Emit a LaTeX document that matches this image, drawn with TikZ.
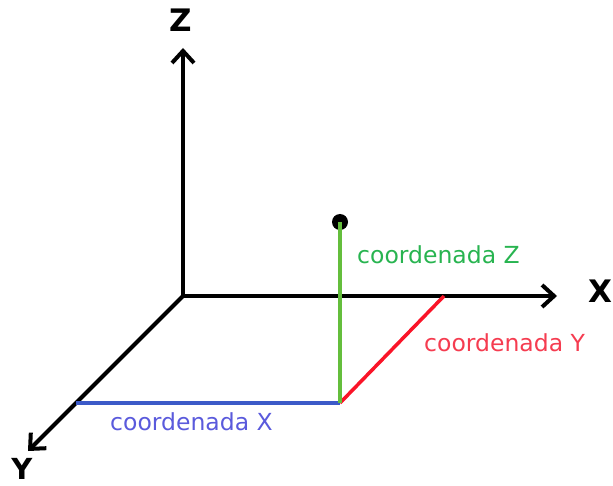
\documentclass[tikz,border=0pt]{standalone}
\usepackage{fontspec}
\setmainfont{DejaVu Sans}
\usetikzlibrary{arrows.meta}
\definecolor{gline}{RGB}{100,190,60}
\definecolor{gtext}{RGB}{40,180,80}
\definecolor{bline}{RGB}{60,90,200}
\definecolor{btext}{RGB}{90,90,220}
\definecolor{rline}{RGB}{250,20,40}
\definecolor{rtext}{RGB}{245,60,80}
\tikzset{
  axis/.style={line width=4pt, -{Straight Barb[length=12pt,width=22pt,line width=4pt]}},
  axislabel/.style={font=\fontsize{31}{35}\selectfont\bfseries, inner sep=0pt},
  coordlabel/.style={font=\fontsize{23.5}{27}\selectfont, inner sep=0pt, anchor=west},
  coordline/.style={line width=3.5pt},
  pointdot/.style={circle, fill=black, inner sep=0pt, minimum size=16pt}
}
\begin{document}
\begin{tikzpicture}[x=1pt,y=-1pt]
\useasboundingbox (0,0) rectangle (613,486);
\coordinate (O) at (183,296);
\coordinate (Zend) at (183,48);
\coordinate (Xend) at (557,296);
\coordinate (Yend) at (28,451);
\coordinate (A) at (76,403);
\coordinate (P) at (340,403);
\coordinate (B) at (444,296);
\node[pointdot] (D) at (340,222) {};
\draw[axis] (O) -- (Zend);
\draw[axis] (O) -- (Xend);
\draw[axis] (O) -- (Yend);
\draw[coordline, bline] (A) -- (P);
\draw[coordline, rline] (P) -- (B);
\draw[coordline, gline] (P) -- (D.center);
\node[axislabel] (zl) at (181,20) {Z};
\node[axislabel] (xl) at (600,291) {X};
\node[axislabel, font=\fontsize{29}{33}\selectfont\bfseries] (yl) at (22,469) {Y};
\node[coordlabel, text=gtext] (cz) at (357,255) {coordenada Z};
\node[coordlabel, text=rtext] (cy) at (424,343) {coordenada Y};
\node[coordlabel, text=btext] (cx) at (110,422) {coordenada X};
\end{tikzpicture}
\end{document}
